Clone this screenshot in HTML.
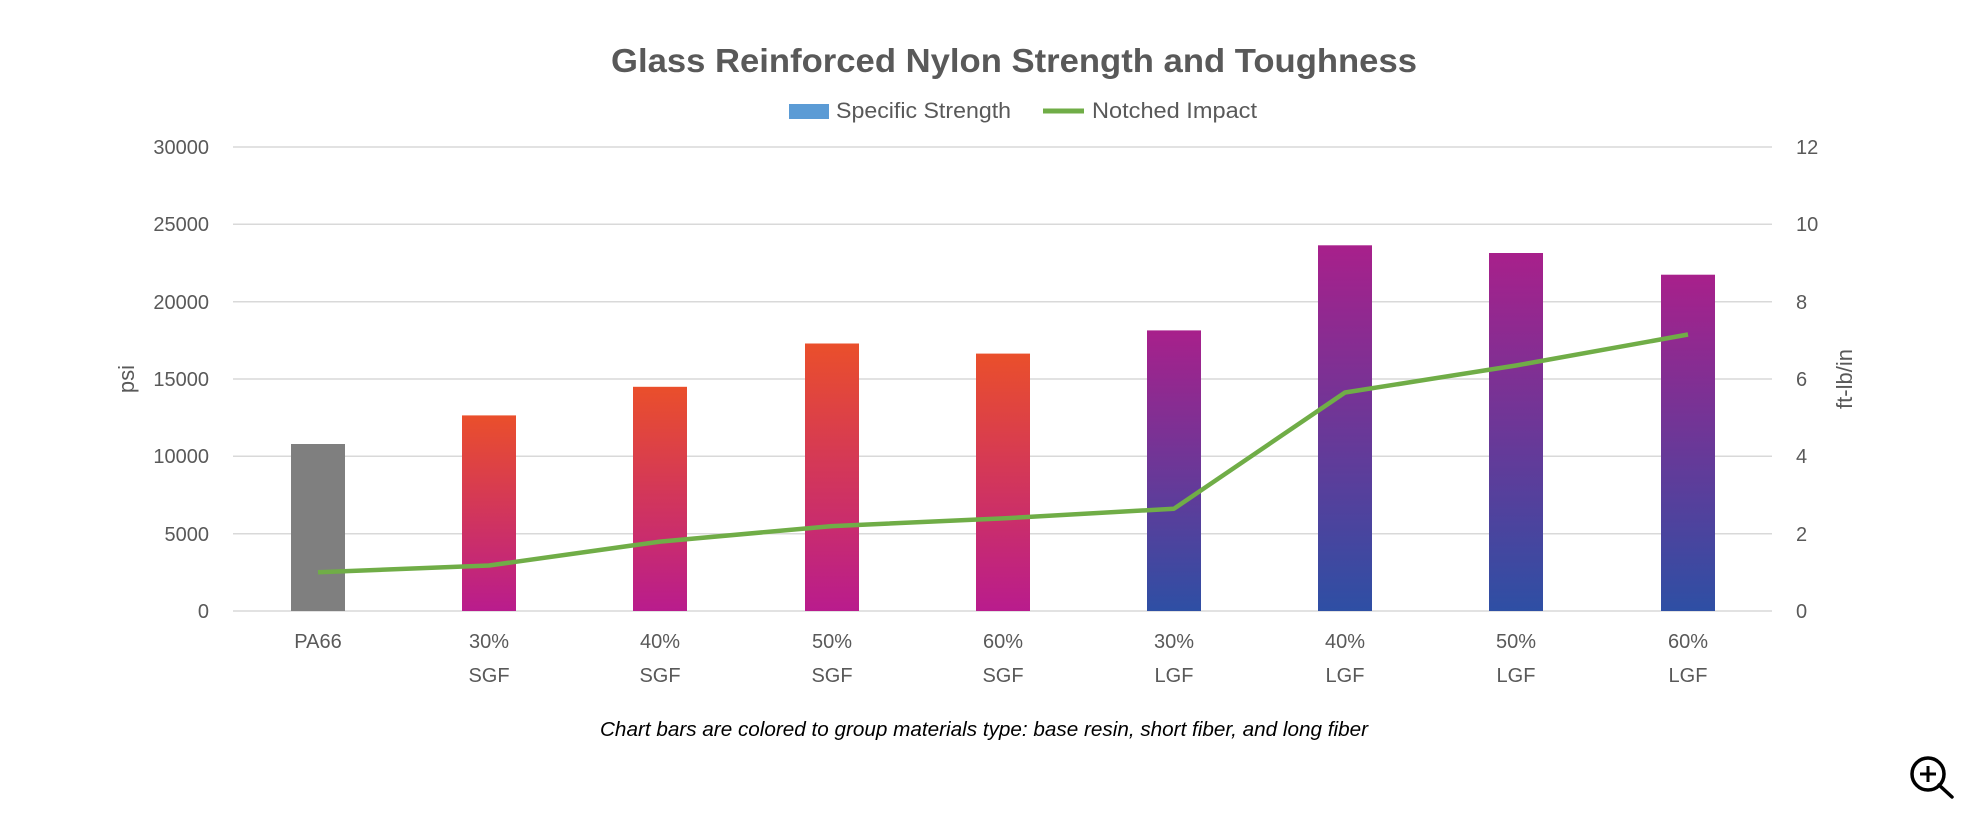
<!DOCTYPE html>
<html><head><meta charset="utf-8"><style>
html,body{margin:0;padding:0;background:#fff;}
svg{display:block;font-family:"Liberation Sans",sans-serif;}
</style></head><body>
<svg width="1972" height="816" viewBox="0 0 1972 816" xmlns="http://www.w3.org/2000/svg">
<defs>
<linearGradient id="sgf" x1="0" y1="0" x2="0" y2="1"><stop offset="0" stop-color="#ea4f2b"/><stop offset="1" stop-color="#b91c8d"/></linearGradient>
<linearGradient id="lgf" x1="0" y1="0" x2="0" y2="1"><stop offset="0" stop-color="#a8208b"/><stop offset="1" stop-color="#2e4fa4"/></linearGradient>
</defs>
<text x="1014" y="72" text-anchor="middle" font-size="33" font-weight="bold" fill="#595959" textLength="806" lengthAdjust="spacingAndGlyphs">Glass Reinforced Nylon Strength and Toughness</text>
<rect x="789" y="104" width="40" height="15" fill="#5b9bd5"/>
<text x="836" y="118" font-size="22" fill="#595959" textLength="175" lengthAdjust="spacingAndGlyphs">Specific Strength</text>
<line x1="1043" y1="111" x2="1084" y2="111" stroke="#70ad47" stroke-width="5"/>
<text x="1092" y="118" font-size="22" fill="#595959" textLength="165" lengthAdjust="spacingAndGlyphs">Notched Impact</text>
<g stroke="#d9d9d9" stroke-width="1.5">
<line x1="233" y1="147" x2="1772" y2="147"/><line x1="233" y1="224.3" x2="1772" y2="224.3"/><line x1="233" y1="301.7" x2="1772" y2="301.7"/><line x1="233" y1="379" x2="1772" y2="379"/><line x1="233" y1="456.3" x2="1772" y2="456.3"/><line x1="233" y1="533.7" x2="1772" y2="533.7"/><line x1="233" y1="611" x2="1772" y2="611"/>
</g>
<g font-size="20" fill="#595959" text-anchor="end">
<text x="209" y="154">30000</text><text x="209" y="231">25000</text><text x="209" y="309">20000</text><text x="209" y="386">15000</text><text x="209" y="463">10000</text><text x="209" y="541">5000</text><text x="209" y="618">0</text>
</g>
<g font-size="20" fill="#595959">
<text x="1796" y="154">12</text><text x="1796" y="231">10</text><text x="1796" y="309">8</text><text x="1796" y="386">6</text><text x="1796" y="463">4</text><text x="1796" y="541">2</text><text x="1796" y="618">0</text>
</g>
<text transform="translate(134,379) rotate(-90)" text-anchor="middle" font-size="22" fill="#595959">psi</text>
<text transform="translate(1852,379) rotate(-90)" text-anchor="middle" font-size="22" fill="#595959">ft-lb/in</text>
<g>
<rect x="291" y="444" width="54" height="167" fill="#7f7f7f"/>
<rect x="462" y="415.4" width="54" height="195.6" fill="url(#sgf)"/>
<rect x="633" y="386.8" width="54" height="224.2" fill="url(#sgf)"/>
<rect x="805" y="343.5" width="54" height="267.5" fill="url(#sgf)"/>
<rect x="976" y="353.6" width="54" height="257.4" fill="url(#sgf)"/>
<rect x="1147" y="330.4" width="54" height="280.6" fill="url(#lgf)"/>
<rect x="1318" y="245.3" width="54" height="365.7" fill="url(#lgf)"/>
<rect x="1489" y="253" width="54" height="358" fill="url(#lgf)"/>
<rect x="1661" y="274.7" width="54" height="336.3" fill="url(#lgf)"/>
</g>
<polyline fill="none" stroke="#70ad47" stroke-width="4.5" stroke-linejoin="round" points="318,572.3 489,565.5 660,541.6 832,526.1 1003,518.4 1174,508.7 1345,392.5 1516,365.5 1688,334.5"/>
<g font-size="20" fill="#595959" text-anchor="middle">
<text x="318" y="648">PA66</text>
<text x="489" y="648">30%</text><text x="489" y="682">SGF</text>
<text x="660" y="648">40%</text><text x="660" y="682">SGF</text>
<text x="832" y="648">50%</text><text x="832" y="682">SGF</text>
<text x="1003" y="648">60%</text><text x="1003" y="682">SGF</text>
<text x="1174" y="648">30%</text><text x="1174" y="682">LGF</text>
<text x="1345" y="648">40%</text><text x="1345" y="682">LGF</text>
<text x="1516" y="648">50%</text><text x="1516" y="682">LGF</text>
<text x="1688" y="648">60%</text><text x="1688" y="682">LGF</text>
</g>
<text x="984" y="736" text-anchor="middle" font-size="20" font-style="italic" fill="#000" textLength="768" lengthAdjust="spacingAndGlyphs">Chart bars are colored to group materials type: base resin, short fiber, and long fiber</text>
<circle cx="1928" cy="774" r="16" fill="none" stroke="#000" stroke-width="3.5"/>
<line x1="1939" y1="785" x2="1952" y2="797" stroke="#000" stroke-width="3.5" stroke-linecap="round"/>
<line x1="1920" y1="774" x2="1936" y2="774" stroke="#000" stroke-width="3"/>
<line x1="1928" y1="766" x2="1928" y2="782" stroke="#000" stroke-width="3"/>
</svg>
</body></html>
